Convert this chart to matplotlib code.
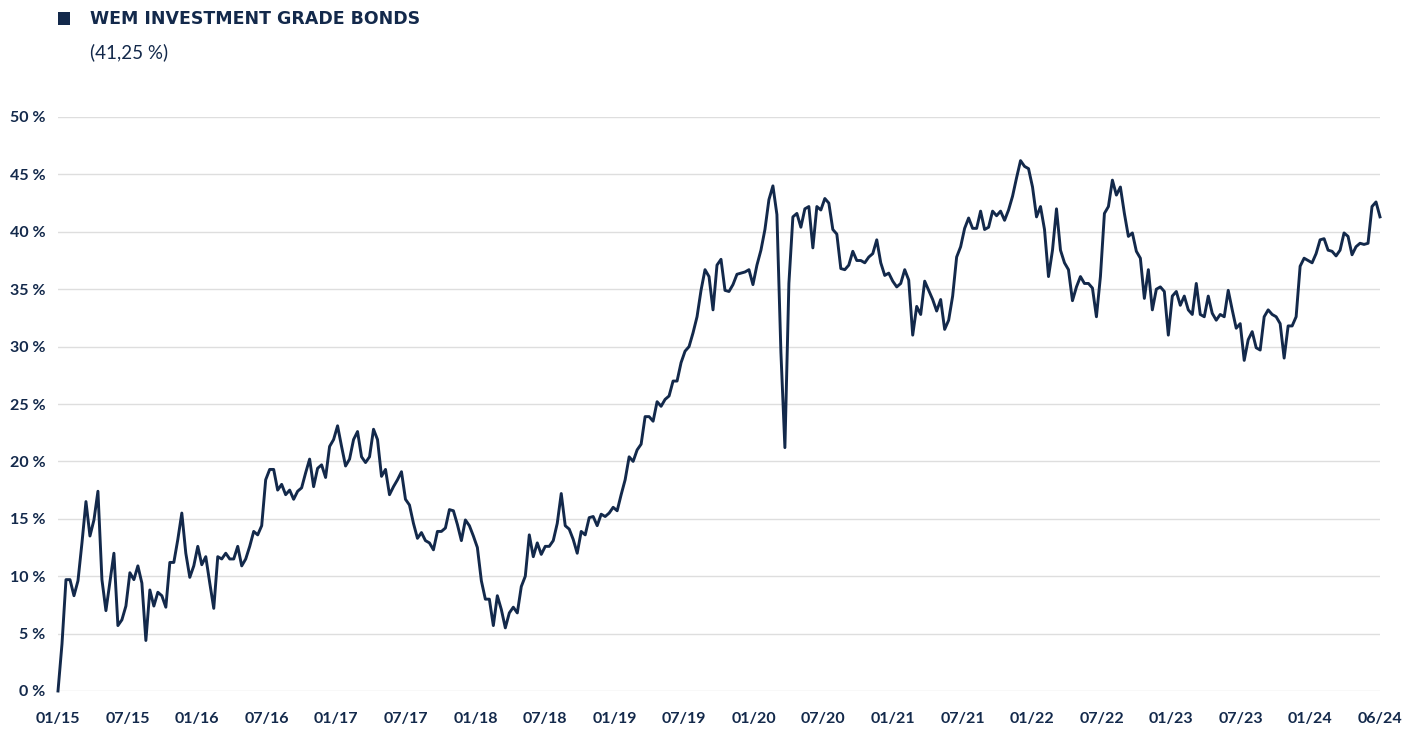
import matplotlib
matplotlib.use('Agg')
import matplotlib.pyplot as plt
from matplotlib.patches import Rectangle
import numpy as np

plt.rcParams['font.family'] = ['Lato', 'DejaVu Sans']

NAVY = '#13294b'
GRID = '#dedede'

SERIES_NAME = 'WEM INVESTMENT GRADE BONDS'
LAST_VALUE = '41,25 %'

tick_labels = ['01/15', '07/15', '01/16', '07/16', '01/17', '07/17', '01/18',
               '07/18', '01/19', '07/19', '01/20', '07/20', '01/21', '07/21',
               '01/22', '07/22', '01/23', '07/23', '01/24', '06/24']
y_ticks = [0, 5, 10, 15, 20, 25, 30, 35, 40, 45, 50]

# cumulative performance in % at even spacing
perf_2015_2016 = [
    0.0, 4.1, 9.7, 9.7, 8.3, 9.6, 12.9, 16.5, 13.5, 14.9, 17.4, 9.7, 7.0, 9.5,
    12.0, 5.7, 6.2, 7.4, 10.3, 9.7, 10.9, 9.4, 4.4, 8.8, 7.4, 8.6, 8.3, 7.3,
    11.2, 11.2, 13.2, 15.5, 12.0, 9.9, 10.9, 12.6, 11.0, 11.7, 9.4, 7.2, 11.7,
    11.5, 12.0, 11.5, 11.5, 12.6, 10.9, 11.5, 12.6, 13.9, 13.6, 14.4, 18.4,
    19.3, 19.3, 17.5, 18.0, 17.1, 17.5, 16.7, 17.4, 17.7, 19.0, 20.2, 17.8,
    19.4, 19.7, 18.6, 21.3, 21.9, 23.1, 21.3, 19.6, 20.2, 21.9, 22.6, 20.4,
    19.9, 20.4, 22.8,
]
perf_2017_2019 = [
    21.9, 18.7, 19.3, 17.1, 17.8, 18.4, 19.1, 16.7, 16.2, 14.6, 13.3, 13.8,
    13.1, 12.9, 12.3, 13.9, 13.9, 14.2, 15.8, 15.7, 14.5, 13.1, 14.9, 14.4,
    13.5, 12.5, 9.6, 8.0, 8.0, 5.7, 8.3, 7.1, 5.5, 6.8, 7.3, 6.8, 9.1, 10.0,
    13.6, 11.7, 12.9, 11.9, 12.6, 12.6, 13.1, 14.6, 17.2, 14.4, 14.1, 13.2,
    12.0, 13.9, 13.6, 15.1, 15.2, 14.4, 15.4, 15.2, 15.5, 16.0, 15.7, 17.1,
    18.4, 20.4, 20.0, 21.0, 21.5, 23.9, 23.9, 23.5, 25.2, 24.8, 25.4, 25.7,
    27.0, 27.0,
]
perf_2019_2021 = [
    28.6, 29.6, 30.0, 31.2, 32.6, 34.9, 36.7, 36.1, 33.2, 37.1, 37.6, 34.9,
    34.8, 35.4, 36.3, 36.4, 36.5, 36.7, 35.4, 37.1, 38.4, 40.2, 42.8, 44.0,
    41.5, 29.5, 21.2, 35.5, 41.3, 41.6, 40.4, 42.0, 42.2, 38.6, 42.2, 41.9,
    42.9, 42.5, 40.2, 39.8, 36.8, 36.7, 37.1, 38.3, 37.5, 37.5, 37.3, 37.8,
    38.1, 39.3, 37.3, 36.2, 36.4, 35.7, 35.2, 35.5, 36.7, 35.8, 31.0, 33.5,
    32.8, 35.7, 34.9, 34.1, 33.1, 34.1, 31.5, 32.3, 34.4, 37.8, 38.7, 40.3,
    41.2, 40.3, 40.3, 41.8, 40.2, 40.4, 41.8, 41.4, 41.8, 41.0, 41.9, 43.1,
    44.7, 46.2, 45.7, 45.5, 43.9, 41.3, 42.2, 40.2, 36.1, 38.4, 42.0, 38.4,
    37.3, 36.7, 34.0, 35.2, 36.1, 35.5, 35.5, 35.1, 32.6, 36.1, 41.6, 42.2,
    44.5, 43.2,
]
perf_2022_2024 = [
    43.9, 41.6, 39.6, 39.9, 38.3, 37.7, 34.2, 36.7, 33.2, 35.0, 35.2, 34.8,
    31.0, 34.4, 34.8, 33.6, 34.4, 33.2, 32.8, 35.5, 32.8, 32.6, 34.4, 32.9,
    32.3, 32.8, 32.6, 34.9, 33.2, 31.6, 32.0, 28.8, 30.6, 31.3, 29.9, 29.7,
    32.6, 33.2, 32.8, 32.6, 32.0, 29.0, 31.8, 31.8, 32.6, 37.0, 37.7, 37.5,
    37.3, 38.1, 39.3, 39.4, 38.4, 38.3, 37.9, 38.4, 39.9, 39.6, 38.0, 38.7,
    39.0, 38.9, 39.0, 42.2, 42.6, 41.3,
]

perf = np.array(perf_2015_2016 + perf_2017_2019 + perf_2019_2021 + perf_2022_2024)
x = np.arange(len(perf))

W, H = 1424, 729
fig = plt.figure(figsize=(W / 100, H / 100), dpi=100)
ax = fig.add_axes([58 / W, 1 - 691 / H, (1380 - 58) / W, (691 - 117) / H])

ax.plot(x, perf, color=NAVY, lw=2.1, clip_on=False, solid_joinstyle='round')
ax.set_xlim(0, len(perf) - 1)
ax.set_ylim(0, 50)

ax.set_yticks(y_ticks)
ax.set_yticklabels([f'{v} %' for v in y_ticks])
ax.set_xticks(np.linspace(0, len(perf) - 1, len(tick_labels)))
ax.set_xticklabels(tick_labels)

ax.grid(axis='y', color=GRID, lw=1)
ax.grid(axis='x', visible=False)
ax.set_axisbelow(True)
for s in ax.spines.values():
    s.set_visible(False)
ax.tick_params(length=0, colors=NAVY, labelsize=11.5)
ax.tick_params(axis='x', pad=15)
ax.tick_params(axis='y', pad=9)
for lbl in ax.get_xticklabels() + ax.get_yticklabels():
    lbl.set_fontweight('bold')

# legend block top left
fig.add_artist(Rectangle((58 / W, 1 - 25 / H), 12 / W, 13 / H,
                         transform=fig.transFigure, color=NAVY, lw=0))
fig.text(90 / W, 1 - 19 / H, SERIES_NAME, va='center', ha='left',
         fontsize=12.5, fontweight='bold', color=NAVY,
         family=['DejaVu Sans'])
fig.text(90 / W, 1 - 52 / H, f'({LAST_VALUE})', va='center', ha='left',
         fontsize=13.5, color=NAVY)

fig.savefig('out.png', dpi=100)
plt.close(fig)
